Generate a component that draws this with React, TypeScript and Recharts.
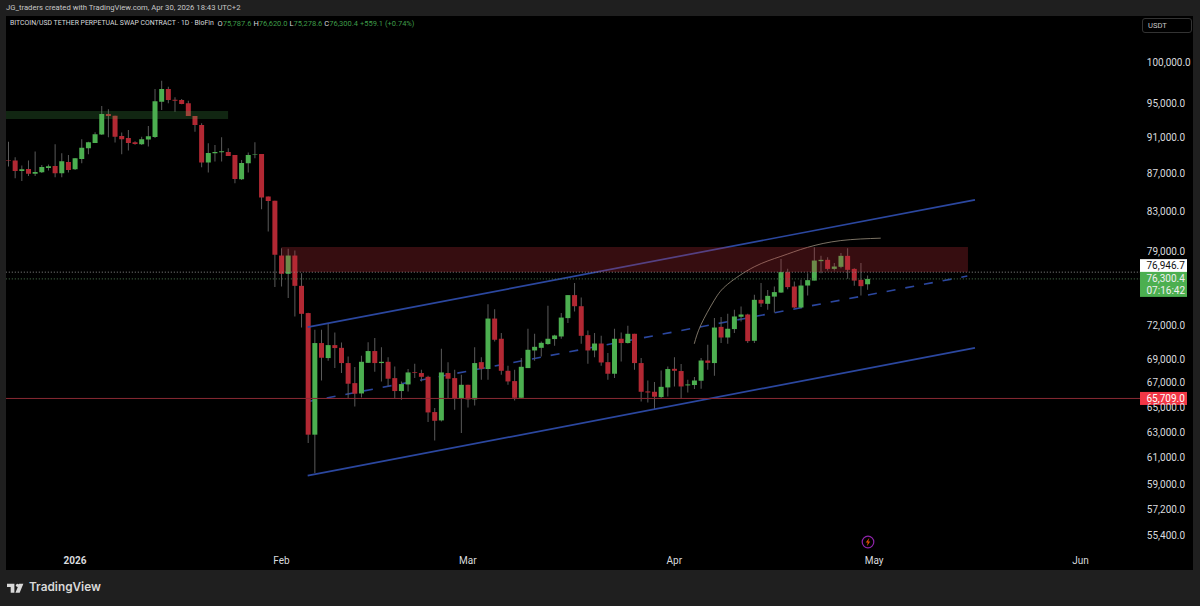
import React from 'react';
import {
  ComposedChart, Bar, Line, Cell, XAxis, YAxis, ReferenceLine, ReferenceArea,
} from 'recharts';

// daily candles, Dec 22 2025 -> Apr 30 2026
const opens = [
  88480, 88460, 87330, 87540, 87030, 87180, 87650, 87870, 87080, 88310,
  87510, 88640, 89840, 90430, 91380, 93770, 93570, 91230, 91000, 90510,
  90290, 90810, 91120, 95220, 96740, 95460, 95420, 95030, 93540, 92490,
  88240, 89280, 89390, 89420, 89090, 86420, 88170, 89110, 89200, 84570,
  84140, 78560, 76790, 78560, 75640, 73110, 62800, 70420, 69110, 70240,
  70000, 68680, 66980, 66120, 68700, 69720, 68680, 68790, 67400, 66320,
  66870, 67910, 67830, 67510, 64600, 63930, 67830, 67400, 65710, 66840,
  65630, 68760, 68170, 72610, 70800, 68020, 67150, 65760, 68250, 69770,
  70000, 70330, 70770, 71000, 72650, 74770, 73740, 71120, 69770, 70380,
  68760, 67770, 70800, 70420, 71240, 68680, 66290, 66260, 65820, 66620,
  68190, 68000, 66790, 66820, 67180, 68900, 68680, 71860, 70910, 71660,
  72770, 72980, 70620, 74330, 73960, 74630, 75010, 76950, 75580, 73620,
  75670, 76140, 78010, 78140, 77260, 77460, 78530, 77260, 76210, 75787.6,
];
const closes = [
  88420, 87330, 87510, 87030, 87220, 87760, 87840, 87080, 88390, 87430,
  88720, 89900, 90510, 91420, 93770, 93540, 91150, 90850, 90430, 90320,
  90850, 91200, 95270, 96740, 95420, 95340, 94950, 93540, 92490, 88240,
  89310, 89420, 89500, 88970, 86460, 88200, 89090, 89170, 84460, 84110,
  78630, 76790, 78560, 75640, 73040, 62800, 70420, 69140, 70240, 69980,
  68680, 66930, 66100, 68790, 69720, 68680, 68790, 67350, 66320, 66900,
  67880, 67850, 67510, 64570, 63900, 67880, 67350, 65740, 66840, 65630,
  68680, 68190, 72610, 70710, 68020, 67120, 65760, 68360, 69830, 70090,
  70440, 70800, 71090, 72700, 74770, 73740, 71060, 69770, 70380, 68730,
  67770, 70800, 70420, 71240, 68680, 66260, 66200, 65850, 66670, 68170,
  68020, 66700, 66870, 67200, 68900, 68700, 71800, 70910, 71690, 72800,
  72980, 70590, 74330, 73990, 74700, 75050, 76950, 75520, 73620, 75670,
  76180, 78070, 78140, 77260, 77490, 78530, 77170, 76140, 75610, 76300.4,
];
const highs = [
  90580, 88840, 87910, 88460, 89460, 87970, 88020, 90290, 89280, 89090,
  88750, 90850, 90580, 91650, 94710, 94320, 93570, 91610, 91910, 90630,
  91150, 92380, 96740, 97750, 97020, 95750, 95540, 95340, 93540, 92690,
  90400, 90210, 91080, 89840, 89090, 88530, 89350, 90510, 89200, 84570,
  84140, 79290, 79220, 79050, 76850, 73130, 71600, 71600, 72110, 71360,
  70470, 69250, 68340, 69310, 70500, 70860, 70060, 69190, 68390, 67120,
  68170, 68620, 68110, 67600, 64920, 69920, 68760, 68110, 67680, 66840,
  70060, 69190, 73930, 73470, 71300, 68440, 68110, 69110, 71690, 71240,
  70560, 73770, 71150, 73110, 74780, 75900, 74550, 71530, 71300, 71060,
  69540, 71690, 71360, 71950, 71240, 69110, 67200, 67070, 68050, 68390,
  69190, 68590, 67260, 67490, 69110, 70270, 72650, 72740, 73040, 73410,
  73710, 73040, 74800, 75900, 75260, 75580, 78210, 77270, 76050, 76210,
  76850, 79390, 78530, 78400, 77820, 78800, 79290, 77330, 77820, 76620,
];
const lows = [
  87800, 86530, 86240, 86780, 86780, 87110, 87360, 86640, 86640, 87140,
  87430, 88170, 89170, 90430, 91340, 91080, 90470, 89170, 89570, 90240,
  90210, 90020, 91000, 94240, 95030, 94040, 94910, 93540, 91720, 87730,
  87140, 88350, 88350, 88970, 86000, 86350, 87140, 88720, 83250, 80950,
  75520, 75580, 74490, 72800, 71800, 62150, 59860, 67200, 68880, 68250,
  67830, 65740, 65060, 65790, 68680, 67940, 67120, 66700, 65740, 65600,
  66290, 67400, 67120, 63800, 62350, 63850, 65740, 64790, 62930, 64970,
  65130, 67260, 67260, 70560, 67680, 66840, 65540, 65740, 68250, 68880,
  69250, 70270, 70180, 70800, 72200, 73250, 70360, 68620, 69190, 68440,
  67260, 67400, 68820, 70380, 68110, 65460, 65380, 64840, 65740, 65870,
  66700, 65660, 66200, 66480, 66510, 68110, 67600, 70420, 70360, 71300,
  72340, 70420, 70420, 73660, 73410, 73160, 74960, 75330, 73560, 73560,
  74730, 76140, 76850, 77100, 77100, 77330, 76310, 75640, 74730, 75278.6,
];

const priceTicks = [100000, 95000, 91000, 87000, 83000, 79000, 72000, 69000, 67000, 65000, 63000, 61000, 59000, 57200, 55400];
const timeSlots = [10, 41, 69, 100, 130, 161];
const timeLabels = ['2026', 'Feb', 'Mar', 'Apr', 'May', 'Jun'];

// hand drawn arc over the April rally
const arcSlots = [103, 104, 106, 108, 112, 116, 120, 125, 131];
const arcPrices = [70356, 72045, 74284, 75784, 77460, 78478, 79365, 80044, 80285];

const SLOT_COUNT = 171;
const rows = Array.from({ length: SLOT_COUNT }, (_, i) => {
  const arcAt = arcSlots.indexOf(i);
  return {
    slot: i,
    wick: i < opens.length ? [lows[i], highs[i]] : null,
    body: i < opens.length ? [Math.min(opens[i], closes[i]), Math.max(opens[i], closes[i])] : null,
    arc: arcAt >= 0 ? arcPrices[arcAt] : null,
  };
});

const GREEN = '#4caf50';
const RED = '#b22833';
const BLUE = '#2b479f';
const VALUE_GREEN = '#3f9c49';
const AXIS_TEXT = '#d8dade';
const FONT = 'Roboto, sans-serif';

const fmt = (v: number) => v.toLocaleString('en-US', { minimumFractionDigits: 1, maximumFractionDigits: 1 });

const PriceTag = ({ viewBox, lines, fill, color, shift }: any) => {
  const h = lines.length * 12 + 1;
  return (
    <g>
      <rect x={1140} y={viewBox.y + shift} width={47} height={h} fill={fill} />
      {lines.map((t: string, i: number) => (
        <text key={t} x={1146.5} y={viewBox.y + shift + 10 + i * 12} fill={color} fontSize={10} fontFamily={FONT}>{t}</text>
      ))}
    </g>
  );
};

const TimeTick = ({ x, y, payload }: any) => {
  const label = timeLabels[timeSlots.indexOf(payload.value)];
  return (
    <text x={x} y={y + 12} textAnchor="middle" fill={AXIS_TEXT} fontSize={10} fontFamily={FONT} fontWeight={label === '2026' ? 700 : 400}>{label}</text>
  );
};

export default function App() {
  return (
    <div style={{ position: 'relative', width: 1200, height: 606, background: '#1f1f1f', overflow: 'hidden', fontFamily: FONT }}>
      <style>{'body{margin:0}'}</style>
      <div style={{ position: 'absolute', left: 6, top: 16, width: 1187, height: 554, background: '#000' }} />
      <div style={{ position: 'absolute', left: 0, top: 0 }}>
        <ComposedChart width={1200} height={606} data={rows} margin={{ top: 16, left: 5, right: 0, bottom: 36 }} barGap={0}>
          <XAxis dataKey="slot" height={20} ticks={timeSlots} interval={0} tick={<TimeTick />} axisLine={false} tickLine={false} tickSize={0} />
          <XAxis xAxisId="wick" dataKey="slot" hide />
          <XAxis xAxisId="num" type="number" dataKey="slot" domain={[-0.5, SLOT_COUNT - 0.5]} allowDataOverflow hide />
          <YAxis
            orientation="right"
            scale="log"
            domain={[54369, 105985]}
            allowDataOverflow
            ticks={priceTicks}
            interval={0}
            width={56.2}
            axisLine={false}
            tickLine={false}
            tickSize={0}
            tickMargin={3}
            tickFormatter={fmt}
            tick={{ fill: AXIS_TEXT, fontSize: 10, fontFamily: FONT }}
          />
          <ReferenceLine xAxisId="num" segment={[{ x: 45, y: 65455 }, { x: 144, y: 76570 }]} stroke={BLUE} strokeWidth={1.6} strokeDasharray="9 10" zIndex={100} />
          <Bar xAxisId="wick" dataKey="wick" barSize={1} fill="#5a5a5a" isAnimationActive={false} />
          <Bar dataKey="body" barSize={5} isAnimationActive={false}>
            {rows.map((r) => (
              <Cell key={r.slot} fill={closes[r.slot] >= opens[r.slot] ? GREEN : RED} />
            ))}
          </Bar>
          <Line dataKey="arc" type="natural" connectNulls dot={false} stroke="#9a8f7e" strokeWidth={0.8} isAnimationActive={false} />
          <ReferenceArea xAxisId="num" x1={-0.5} x2={33} y1={93185} y2={94122} fill={GREEN} fillOpacity={0.22} stroke="none" zIndex={700} />
          <ReferenceArea xAxisId="num" x1={41} x2={144.1} y1={76960} y2={79414} fill="#c2303a" fillOpacity={0.28} stroke="none" zIndex={700} />
          <ReferenceLine xAxisId="num" segment={[{ x: 44.95, y: 71839 }, { x: 145.15, y: 84218 }]} stroke={BLUE} strokeWidth={1.7} />
          <ReferenceLine xAxisId="num" segment={[{ x: 44.95, y: 59661 }, { x: 145.15, y: 70003 }]} stroke={BLUE} strokeWidth={1.7} />
          <ReferenceLine y={76946.7} stroke="#8c8c8c" strokeDasharray="1 2" strokeWidth={1} label={<PriceTag lines={['76,946.7']} fill="#fff" color="#111" shift={-13} />} />
          <ReferenceLine y={76300.4} stroke="#4f7a52" strokeDasharray="1 2" strokeWidth={1} label={<PriceTag lines={['76,300.4', '07:16:42']} fill={GREEN} color="#f0f0f0" shift={-7} />} />
          <ReferenceLine y={65709} stroke="#8a2a33" strokeWidth={1} label={<PriceTag lines={['65,709.0']} fill="#f23645" color="#fff" shift={-6.5} />} />
        </ComposedChart>
      </div>
      <div style={{ position: 'absolute', left: 0, top: 0, width: 6, height: 606, background: '#1f1f1f' }} />
      <div style={{ position: 'absolute', left: 6, top: 3, fontSize: 7.7, color: '#c8c8c8', whiteSpace: 'nowrap' }}>
        JG_traders created with TradingView.com, Apr 30, 2026 18:43 UTC+2
      </div>
      <div style={{ position: 'absolute', left: 10, top: 19, fontSize: 6.9, color: '#d8dade', whiteSpace: 'nowrap' }}>
        BITCOIN/USD TETHER PERPETUAL SWAP CONTRACT · 1D · BloFin
      </div>
      <div style={{ position: 'absolute', left: 217.5, top: 19, fontSize: 7.5, color: '#d8dade', whiteSpace: 'nowrap' }}>
        O<span style={{ color: VALUE_GREEN }}>75,787.6</span>
        <span style={{ marginLeft: 2 }}>H<span style={{ color: VALUE_GREEN }}>76,620.0</span></span>
        <span style={{ marginLeft: 2 }}>L<span style={{ color: VALUE_GREEN }}>75,278.6</span></span>
        <span style={{ marginLeft: 2 }}>C<span style={{ color: VALUE_GREEN }}>76,300.4</span></span>
        <span style={{ marginLeft: 2, color: VALUE_GREEN }}>+559.1 (+0.74%)</span>
      </div>
      <div style={{ position: 'absolute', left: 1142, top: 18, width: 50, height: 15, boxSizing: 'border-box', border: '1px solid #333', borderRadius: 3, color: '#c8c8c8', fontSize: 7.6, lineHeight: '13px', paddingLeft: 5 }}>
        USDT
      </div>
      <svg style={{ position: 'absolute', left: 860, top: 534 }} width={16} height={16}>
        <circle cx={8} cy={8} r={5.8} fill="none" stroke="#8e24aa" strokeWidth={1.2} />
        <path d="M9.4 3.8 5.8 8.6h2l-1 3.6 3.4-4.8H8.2z" fill="#e65100" />
      </svg>
      <svg style={{ position: 'absolute', left: 7, top: 582 }} width={19} height={12} viewBox="0 0 36 22" fill="#d8d8d8">
        <path d="M14 3H0v6h7v11h7z" />
        <circle cx={20} cy={6} r={3} />
        <path d="M24 20 31 3h-8l-7 17z" />
      </svg>
      <div style={{ position: 'absolute', left: 29, top: 580, fontFamily: 'Inter, sans-serif', fontSize: 11.8, fontWeight: 600, color: '#d8d8d8' }}>
        TradingView
      </div>
    </div>
  );
}
